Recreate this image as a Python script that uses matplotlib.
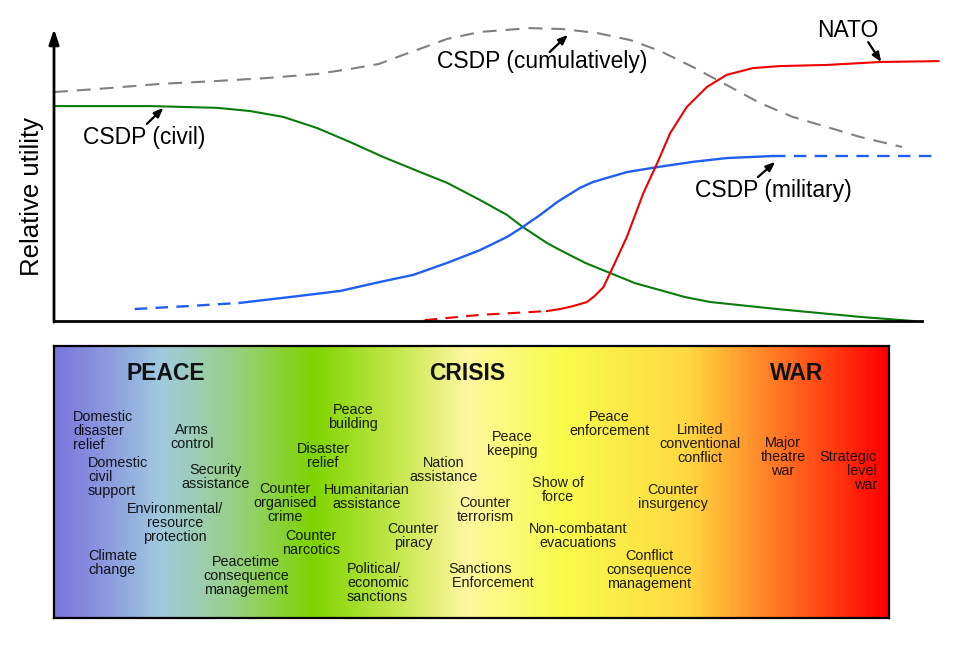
import numpy as np
import matplotlib
matplotlib.use("Agg")
import matplotlib.pyplot as plt
from matplotlib.colors import LinearSegmentedColormap

plt.rcParams['font.family'] = ['Liberation Sans', 'DejaVu Sans']
plt.rcParams['lines.scale_dashes'] = False

# --- curves (conflict intensity 0-100, relative utility 0-100) ---
civil_x = [0, 11.1, 18.8, 22.6, 26.4, 30.3, 34.1, 37.9, 41.6, 45.3, 49.1, 52.2, 54.0,
           56.8, 58.3, 61.2, 64.1, 66.9, 69.8, 72.7, 75.6, 83.3, 92.9, 99.0]
civil_y = [73.6, 73.6, 73.0, 71.9, 69.9, 66.1, 61.3, 56.2, 51.7, 47.3, 41.4, 36.3, 32.2,
           26.7, 24.3, 19.9, 16.4, 13.0, 10.6, 8.2, 6.5, 4.1, 1.4, 0.0]

mil_dash_x = [9.3, 15.4, 21.4]
mil_dash_y = [4.1, 5.1, 6.2]
mil_x = [21.4, 28.3, 33.0, 37.6, 41.4, 45.3, 49.1, 52.2, 54.0, 56.0, 58.0, 60.6, 62.1,
         63.7, 66.0, 69.5, 73.6, 77.5, 82.8]
mil_y = [6.2, 8.6, 10.3, 13.4, 15.8, 19.9, 24.3, 28.8, 32.2, 36.3, 40.8, 45.6, 47.6,
         49.0, 51.0, 52.7, 54.5, 55.8, 56.5]
mil_end_x = [82.8, 101.2]
mil_end_y = [56.5, 56.5]

nato_dash_x = [42.7, 49.1, 56.8]
nato_dash_y = [0.3, 2.1, 3.4]
nato_x = [56.8, 58.3, 59.8, 61.4, 62.3, 63.3, 64.4, 66.0, 67.9, 69.5, 71.0, 72.9, 75.2,
          77.5, 80.5, 83.6, 89.1, 95.2, 101.9]
nato_y = [3.4, 4.1, 5.1, 6.5, 8.6, 11.6, 18.5, 28.8, 43.8, 54.1, 64.4, 73.3, 80.1,
          84.3, 86.6, 87.3, 87.7, 88.7, 89.0]

cum_x = [0, 6.5, 12.2, 18.8, 24.5, 30.3, 34.1, 37.4, 40.2, 42.7, 45.3, 49.1, 54.8, 58.6,
         62.6, 66.4, 69.8, 73.6, 77.5, 81.3, 85.1, 89.1, 92.9, 97.7]
cum_y = [78.4, 79.8, 81.2, 82.2, 83.2, 84.6, 86.3, 88.0, 91.1, 93.8, 96.6, 99.0, 100.3,
         100.0, 98.6, 96.2, 92.5, 87.0, 80.8, 74.7, 69.9, 66.4, 63.0, 59.6]

# --- continuum panel ---
phases = ["PEACE", "CRISIS", "WAR"]
tasks = [
    "Domestic\ndisaster\nrelief", "Arms\ncontrol", "Domestic\ncivil\nsupport",
    "Security\nassistance", "Environmental/\nresource\nprotection", "Climate\nchange",
    "Peacetime\nconsequence\nmanagement", "Peace\nbuilding", "Disaster\nrelief",
    "Counter\norganised\ncrime", "Humanitarian\nassistance", "Counter\nnarcotics",
    "Nation\nassistance", "Counter\npiracy", "Political/\neconomic\nsanctions",
    "Counter\nterrorism", "Sanctions\n Enforcement", "Peace\nkeeping",
    "Peace\nenforcement", "Show of\nforce", "Non-combatant\nevacuations",
    "Limited\nconventional\nconflict", "Counter\ninsurgency",
    "Conflict\nconsequence\nmanagement", "Major\ntheatre\nwar", "Strategic\nlevel\nwar",
]

fig = plt.figure(figsize=(9.6, 6.62), dpi=100)

# top chart
ax = fig.add_axes([54/960, 1-321/662, 868/960, 292/662])
ax.set_xlim(0, 100)
ax.set_ylim(0, 100)
for s in ["top", "right", "left"]:
    ax.spines[s].set_visible(False)
ax.spines["bottom"].set_linewidth(2.0)
ax.set_xticks([])
ax.set_yticks([])
ax.annotate("", xy=(0, 1.0), xytext=(0, -0.004), xycoords="axes fraction",
            arrowprops=dict(arrowstyle="-|>,head_length=0.9,head_width=0.3",
                            color="black", lw=2.0, shrinkA=0, shrinkB=0))

lw = 1.5
ax.plot(cum_x, cum_y, color="#808080", lw=lw, dashes=(10, 6.5), clip_on=False)
ax.plot(civil_x, civil_y, color="#0a7a0a", lw=lw, clip_on=False)
ax.plot(mil_dash_x, mil_dash_y, color="#1f5ff0", lw=1.7, dashes=(9, 6), clip_on=False)
ax.plot(mil_x, mil_y, color="#1f5ff0", lw=1.7, clip_on=False)
ax.plot(mil_end_x, mil_end_y, color="#1f5ff0", lw=1.7, dashes=(9, 6), clip_on=False)
ax.plot(nato_dash_x, nato_dash_y, color="#ee0000", lw=lw, dashes=(9, 6), clip_on=False)
ax.plot(nato_x, nato_y, color="#ee0000", lw=lw, clip_on=False)

arrow = dict(arrowstyle="-|>,head_length=0.55,head_width=0.22", color="black", lw=1.6,
             shrinkA=0, shrinkB=0)
fs = 16.5
ax.annotate("", xy=(12.6, 73.0), xytext=(10.7, 67.5), arrowprops=arrow)
ax.text(3.3, 60.6, "CSDP (civil)", fontsize=fs, va="baseline")
ax.annotate("", xy=(59.2, 98.0), xytext=(57.1, 92.1), arrowprops=arrow)
ax.text(44.1, 86.6, "CSDP (cumulatively)", fontsize=fs, va="baseline")
ax.annotate("", xy=(95.3, 88.7), xytext=(93.8, 95.5), arrowprops=arrow)
ax.text(87.9, 97.3, "NATO", fontsize=fs, va="baseline")
ax.annotate("", xy=(83.1, 54.5), xytext=(81.1, 49.3), arrowprops=arrow)
ax.text(73.85, 42.5, "CSDP (military)", fontsize=fs, va="baseline")

fig.text(32/960, 1-196/662, "Relative utility", rotation=90, fontsize=18.5,
         ha="center", va="center")

# bottom panel
ax2 = fig.add_axes([54/960, 1-618/662, 835/960, 272/662])
ax2.set_xlim(54, 889)
ax2.set_ylim(618, 346)
ax2.set_xticks([])
ax2.set_yticks([])
for s in ax2.spines.values():
    s.set_linewidth(1.6)

stops = [(54, "#7a76dc"), (110, "#8e9ede"), (160, "#a0cade"), (230, "#98d08a"),
         (312, "#7ed400"), (400, "#c8e850"), (467, "#fff7a0"), (560, "#f8fc4c"),
         (690, "#ffd840"), (745, "#ff9c30"), (889, "#ff0000")]
cmap = LinearSegmentedColormap.from_list(
    "cont", [((p - 54) / 835, c) for p, c in stops])
grad = np.linspace(0, 1, 600).reshape(1, -1)
ax2.imshow(grad, cmap=cmap, aspect="auto", extent=(54, 889, 618, 346), zorder=0)

head_pos = [166, 467, 797]
for name, hx in zip(phases, head_pos):
    ax2.text(hx, 374, name, fontsize=16.5, fontweight="bold", ha="center",
             va="center", color="#111111")

task_pos = [
    (73, 431, "left"), (192, 437, "center"), (88, 477, "left"),
    (216, 477, "center"), (175, 523, "center"), (88, 563, "left"),
    (246, 576, "center"), (353, 417, "center"), (323, 456, "center"),
    (285, 503, "center"), (367, 497, "center"), (311, 543, "center"),
    (444, 470, "center"), (413, 536, "center"), (347, 583, "left"),
    (485, 510, "center"), (448, 576, "left"), (512, 444, "center"),
    (609, 424, "center"), (558, 490, "center"), (578, 536, "center"),
    (700, 444, "center"), (673, 497, "center"), (649, 570, "center"),
    (783, 457, "center"), (877, 471, "right"),
]
for label, (tx, ty, al) in zip(tasks, task_pos):
    ax2.text(tx, ty, label, fontsize=10.4, ha=al, va="center", multialignment=al,
             linespacing=0.98, color="black", alpha=0.88)

fig.savefig("out.png", dpi=100, facecolor="white")
